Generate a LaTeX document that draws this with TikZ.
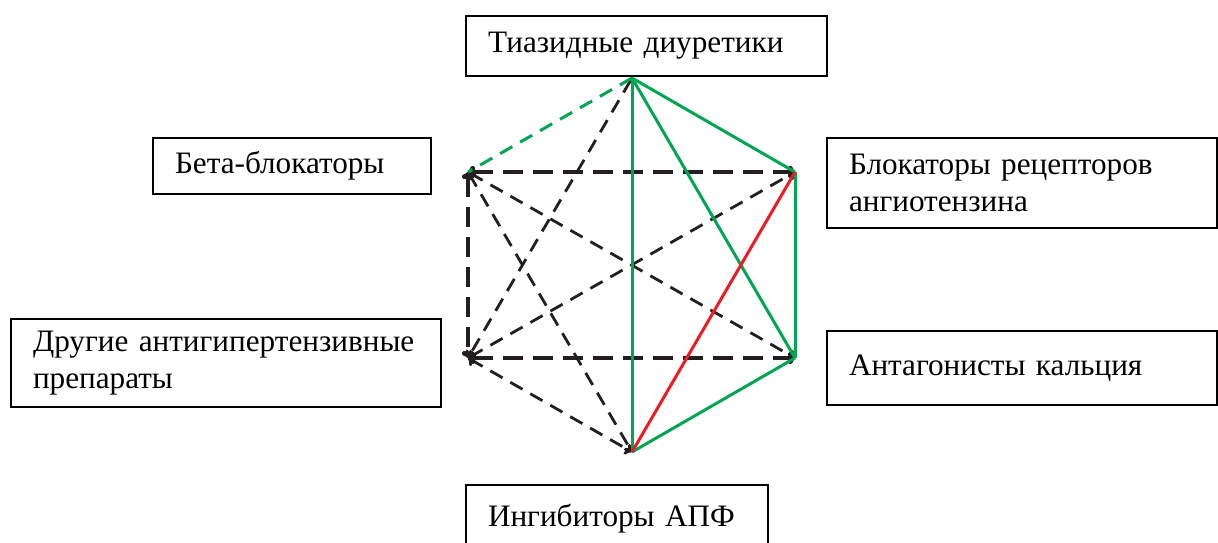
\documentclass[tikz,border=0pt]{standalone}
\usepackage{fontspec}
\setmainfont{Liberation Serif}
\usetikzlibrary{arrows.meta}
\definecolor{drugGreen}{RGB}{0,166,81}
\definecolor{drugRed}{RGB}{237,28,36}
\definecolor{drugBlack}{RGB}{35,31,32}

\begin{document}
\begin{tikzpicture}[x=0.5pt,y=-0.5pt,
  box/.style={draw,line width=1pt,anchor=north west,align=left,inner xsep=11pt,inner ysep=0pt,font=\fontsize{15.6}{18.5}\selectfont},
  good/.style={drugGreen,line width=1.5pt},
  bad/.style={drugRed,line width=1.5pt},
  maybe/.style={drugGreen,line width=1.5pt,dash pattern=on 7pt off 4.5pt},
  weak/.style={drugBlack,line width=1.4pt,dash pattern=on 7pt off 4.5pt,{To[length=3.5pt,width=6pt]}-{To[length=3.5pt,width=6pt]}},
  weakthick/.style={weak,line width=2.4pt,dash pattern=on 10pt off 5pt}]
% Frame
\clip (0,0) rectangle (1218,542);

% Boxes
\node[box,text width=158.5pt,minimum height=30pt] (thz) at (465,15) {Тиазидные диуретики};
\node[box,text width=117pt,minimum height=28pt] (beta) at (152,137) {Бета-блокаторы};
\node[box,text width=173pt,minimum height=45pt] (arb) at (826,137) {Блокаторы рецепторов\\ангиотензина};
\node[box,text width=193pt,minimum height=44pt] (other) at (10,318) {Другие антигипертензивные\\препараты};
\node[box,text width=173pt,minimum height=37pt] (ca) at (826,330) {Антагонисты кальция};
\node[box,text width=129pt,minimum height=34pt] (ace) at (465,484) {Ингибиторы АПФ};

% Hexagon corners
\coordinate (T) at (632,78);
\coordinate (UR) at (795,172);
\coordinate (LR) at (795,358);
\coordinate (B) at (632,452);
\coordinate (LL) at (468,358);
\coordinate (UL) at (468,172);

% Black dashed
\draw[weakthick] (UL) -- (UR);
\draw[weakthick] (LL) -- (LR);
\draw[weakthick] (UL) -- (LL);
\draw[weak] (UL) -- (LR);
\draw[weak] (UL) -- (B);
\draw[weak] (LL) -- (UR);
\draw[weak] (LL) -- (B);
\draw[weak,{Butt Cap}-{To[length=3.5pt,width=6pt]}] (T) -- (LL);

% Green and red
\draw[maybe] (T) -- (UL);
\draw[good] (T) -- (UR);
\draw[good] (T) -- (B);
\draw[good] (T) -- (LR);
\draw[good] (UR) -- (LR);
\draw[good] (LR) -- (B);
\draw[bad] (UR) -- (B);
\end{tikzpicture}
\end{document}
